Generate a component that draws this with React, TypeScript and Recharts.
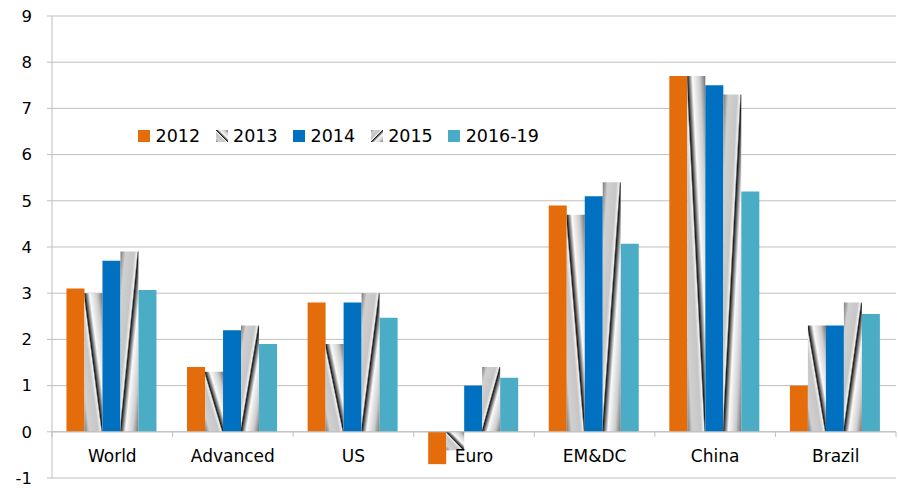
import React from 'react';
import { Bar, BarChart, CartesianGrid, Legend, ReferenceLine, XAxis, YAxis } from 'recharts';

const categories = ['World', 'Advanced', 'US', 'Euro', 'EM&DC', 'China', 'Brazil'];
const v2012 = [3.1, 1.4, 2.8, -0.7, 4.9, 7.7, 1.0];
const v2013 = [3.0, 1.3, 1.9, -0.4, 4.7, 7.7, 2.3];
const v2014 = [3.7, 2.2, 2.8, 1.0, 5.1, 7.5, 2.3];
const v2015 = [3.9, 2.3, 3.0, 1.4, 5.4, 7.3, 2.8];
const v2016 = [3.07, 1.9, 2.47, 1.17, 4.07, 5.2, 2.55];
const yTicks = [-1, 0, 1, 2, 3, 4, 5, 6, 7, 8, 9];

const series = [
  { key: 'y2012', label: '2012', fill: '#e46c0a' },
  { key: 'y2013', label: '2013', fill: 'url(#metalBack)' },
  { key: 'y2014', label: '2014', fill: '#0070c0' },
  { key: 'y2015', label: '2015', fill: 'url(#metalFwd)' },
  { key: 'y2016', label: '2016-19', fill: '#4bacc6' },
];

const data = categories.map((name, i) => ({
  name,
  y2012: v2012[i],
  y2013: v2013[i],
  y2014: v2014[i],
  y2015: v2015[i],
  y2016: v2016[i],
}));

const W = 898;
const H = 496;
const LEFT = 52;
const RIGHT = 2;
const halfBand = (W - LEFT - RIGHT) / categories.length / 2;
const font = '"DejaVu Sans", sans-serif';
const grey = '#bfbfbf';

const metalStops = [
  ['0', '#7a7a7a'],
  ['0.14', '#d0d0d0'],
  ['0.38', '#c6c6c6'],
  ['0.46', '#f0f0f0'],
  ['0.5', '#1a1a1a'],
  ['0.56', '#808080'],
  ['0.64', '#fafafa'],
  ['0.84', '#cccccc'],
  ['1', '#737373'],
];

// x-axis labels sit under the zero line, with little ticks between categories
const CategoryTick = (props: any) => {
  const { x, y, payload, index } = props;
  const zeroY = y - 46;
  return (
    <g>
      <line x1={x - halfBand} x2={x - halfBand} y1={zeroY} y2={zeroY + 5} stroke={grey} />
      {index === categories.length - 1 && (
        <line x1={x + halfBand} x2={x + halfBand} y1={zeroY} y2={zeroY + 5} stroke={grey} />
      )}
      <text x={x} y={y - 16} textAnchor="middle" fontFamily={font} fontSize={17} fill="#000">
        {payload.value}
      </text>
    </g>
  );
};

const LegendBox = () => (
  <div style={{ display: 'flex', fontFamily: font, fontSize: 17.5, color: '#000' }}>
    {series.map((s) => (
      <div key={s.key} style={{ display: 'flex', alignItems: 'center', marginRight: 15.5 }}>
        <svg width={12} height={12} style={{ marginRight: 5.5 }}>
          <rect width={12} height={12} fill={s.fill} />
        </svg>
        <span>{s.label}</span>
      </div>
    ))}
  </div>
);

export default function App() {
  return (
    <div style={{ position: 'absolute', left: 0, top: 0, background: '#fff' }}>
      <svg width={0} height={0} style={{ position: 'absolute' }}>
        <defs>
          <linearGradient id="metalBack" x1="0" y1="1" x2="1" y2="0">
            {metalStops.map(([o, c]) => (
              <stop key={o} offset={o} stopColor={c} />
            ))}
          </linearGradient>
          <linearGradient id="metalFwd" x1="0" y1="0" x2="1" y2="1">
            {metalStops.map(([o, c]) => (
              <stop key={o} offset={o} stopColor={c} />
            ))}
          </linearGradient>
        </defs>
      </svg>
      <BarChart
        width={W}
        height={H}
        data={data}
        margin={{ top: 16, right: RIGHT, left: 0, bottom: 0 }}
        barCategoryGap="12%"
        barGap={0}
      >
        <CartesianGrid vertical={false} stroke={grey} />
        <XAxis
          dataKey="name"
          height={18}
          axisLine={false}
          tickLine={false}
          tickSize={0}
          tickMargin={0}
          interval={0}
          tick={<CategoryTick />}
        />
        <YAxis
          width={LEFT}
          domain={[-1, 9]}
          ticks={yTicks}
          interval={0}
          axisLine={{ stroke: grey }}
          tickLine={{ stroke: grey }}
          tickSize={5}
          tickMargin={15}
          tick={{ fontFamily: font, fontSize: 16.5, fill: '#000' }}
        />
        <ReferenceLine y={0} stroke={grey} />
        <Legend
          verticalAlign="middle"
          align="center"
          content={<LegendBox />}
          wrapperStyle={{ position: 'absolute', left: 138, top: 126, width: 'auto' }}
        />
        {series.map((s) => (
          <Bar key={s.key} dataKey={s.key} name={s.label} fill={s.fill} isAnimationActive={false} />
        ))}
      </BarChart>
    </div>
  );
}
